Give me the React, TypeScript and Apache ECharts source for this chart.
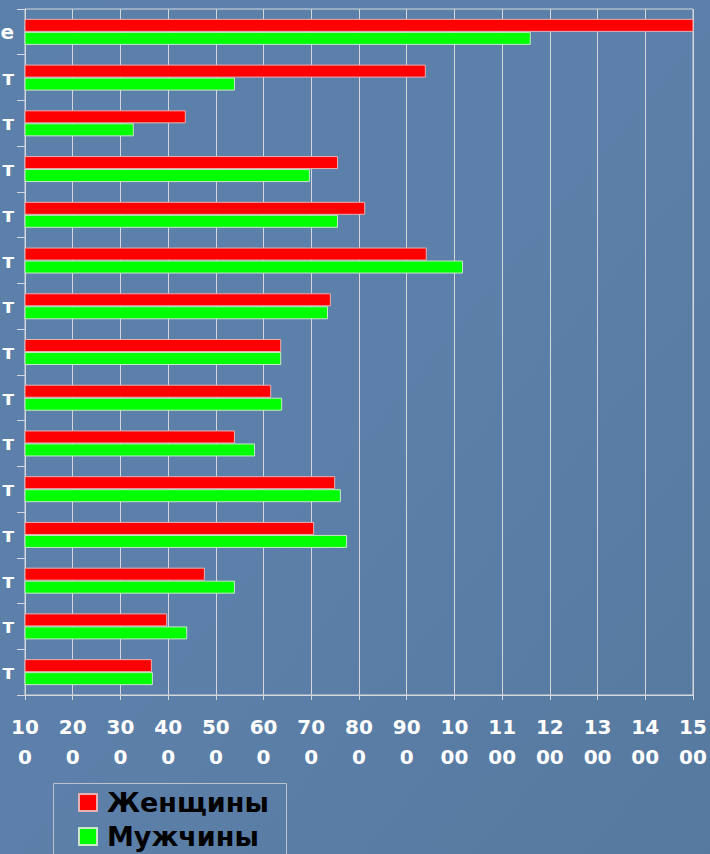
import React, { useEffect, useRef } from 'react';
import * as echarts from 'echarts';

// Categories listed top to bottom (only the visible ends of the labels)
const categories = ['е', 'т', 'т', 'т', 'т', 'т', 'т', 'т', 'т', 'т', 'т', 'т', 'т', 'т', 'т'];
const seriesNames = ['Женщины', 'Мужчины'];
const women = [1505, 940, 437, 756, 813, 942, 741, 637, 616, 540, 750, 706, 477, 398, 366];
const men = [1160, 540, 328, 697, 756, 1018, 735, 637, 639, 582, 762, 775, 540, 440, 368];
const xMin = 100;
const xMax = 1500;
const xStep = 100;

export default function App() {
  const ref = useRef<HTMLDivElement>(null);
  useEffect(() => {
    document.body.style.margin = '0';
    const chart = echarts.init(ref.current!, null, { renderer: 'svg' });
    const font = 'DejaVu Sans';
    chart.setOption({
      animation: false,
      backgroundColor: {
        type: 'linear',
        x: 0, y: 0, x2: 1, y2: 1,
        colorStops: [
          { offset: 0, color: '#5b80aa' },
          { offset: 0.5, color: '#5c80a9' },
          { offset: 1, color: '#56799f' },
        ],
      },
      grid: {
        left: 25,
        right: 17,
        top: 9,
        bottom: 159,
        outerBoundsMode: 'none',
        containLabel: false,
        show: true,
        borderColor: '#d4d8dc',
        borderWidth: 1,
        backgroundColor: 'transparent',
      },
      graphic: [
        {
          type: 'rect',
          shape: { x: 53.5, y: 783.5, width: 233, height: 120 },
          style: { fill: 'none', stroke: '#b9c3cd', lineWidth: 1 },
          silent: true,
        },
      ],
      legend: {
        orient: 'vertical',
        left: 78,
        top: 788,
        height: 90,
        data: seriesNames,
        icon: 'rect',
        itemWidth: 18,
        itemHeight: 17,
        itemGap: 5,
        padding: 0,
        textStyle: {
          fontFamily: font,
          fontSize: 27,
          fontWeight: 'bold',
          color: '#000',
          lineHeight: 29,
          padding: [0, 0, 0, 5],
        },
      },
      xAxis: {
        type: 'value',
        min: xMin,
        max: xMax,
        interval: xStep,
        axisLine: { show: true, lineStyle: { color: '#d4d8dc', width: 1 } },
        axisTick: { show: true, length: 5, lineStyle: { color: '#d4d8dc' } },
        splitLine: { show: true, lineStyle: { color: '#d4d8dc', width: 1 } },
        axisLabel: {
          fontFamily: font,
          fontSize: 20,
          fontWeight: 'bold',
          color: '#ffffff',
          lineHeight: 30,
          margin: 17,
          formatter: (v: number) => {
            const s = String(v);
            return s.slice(0, 2) + '\n' + s.slice(2);
          },
        },
      },
      yAxis: {
        type: 'category',
        data: categories,
        inverse: true,
        axisLine: { show: true, lineStyle: { color: '#d4d8dc', width: 1 } },
        axisTick: { show: true, length: 8, lineStyle: { color: '#d4d8dc' } },
        axisLabel: {
          fontFamily: font,
          fontSize: 20,
          fontWeight: 'bold',
          color: '#ffffff',
          margin: 11,
        },
      },
      series: [
        {
          name: seriesNames[0],
          type: 'bar',
          data: women,
          barWidth: 13,
          barGap: '0%',
          itemStyle: { color: '#ff0000', borderColor: '#e8b0b0', borderWidth: 1 },
        },
        {
          name: seriesNames[1],
          type: 'bar',
          data: men,
          barWidth: 13,
          barGap: '0%',
          itemStyle: { color: '#00ff00', borderColor: '#c8e8c8', borderWidth: 1 },
        },
      ],
    });
    return () => chart.dispose();
  }, []);
  return <div ref={ref} style={{ width: 710, height: 854, position: 'absolute', left: 0, top: 0 }} />;
}
